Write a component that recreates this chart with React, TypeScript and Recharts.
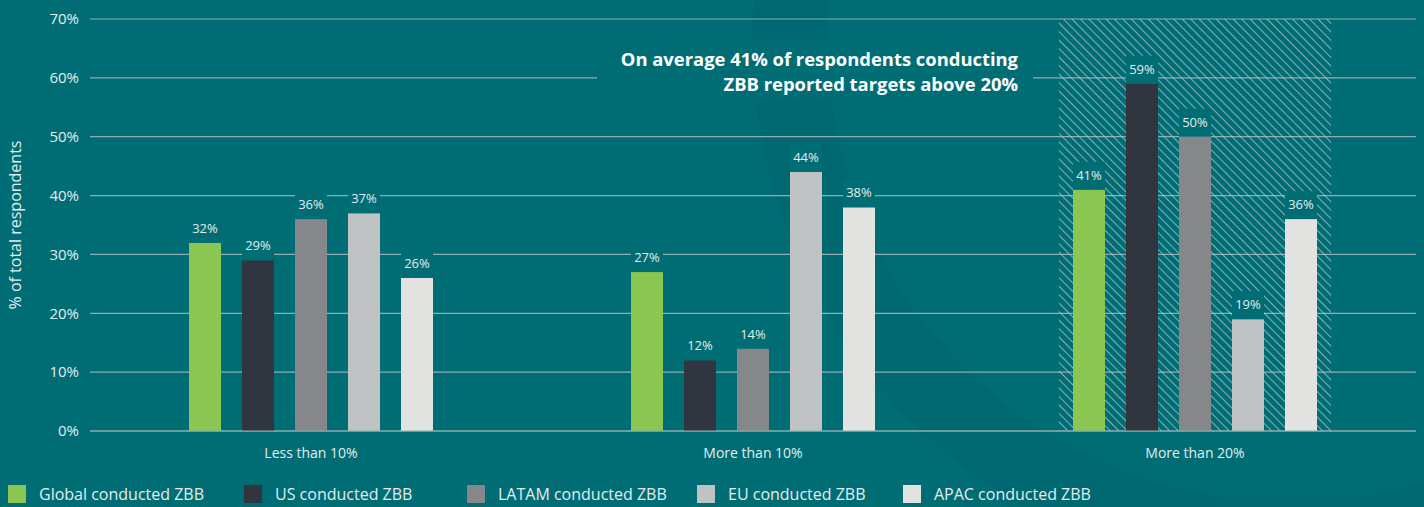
import { BarChart, Bar, XAxis, YAxis, CartesianGrid, LabelList, ReferenceArea } from "recharts";

const categories = ["Less than 10%", "More than 10%", "More than 20%"];
const globalValues = [32, 27, 41];
const usValues = [29, 12, 59];
const latamValues = [36, 14, 50];
const euValues = [37, 44, 19];
const apacValues = [26, 38, 36];
const yTicks = [0, 10, 20, 30, 40, 50, 60, 70];
const highlightCategory = "More than 20%";

const BG = "#006d75";
const GRID = "#8eaeb0";
const TEXT = "#e3ecec";
const FONT = "'Open Sans', sans-serif";

const series = [
  { key: "global", name: "Global conducted ZBB", color: "#8bc653", values: globalValues },
  { key: "us", name: "US conducted ZBB", color: "#31353f", values: usValues },
  { key: "latam", name: "LATAM conducted ZBB", color: "#85878b", values: latamValues },
  { key: "eu", name: "EU conducted ZBB", color: "#c0c3c4", values: euValues },
  { key: "apac", name: "APAC conducted ZBB", color: "#e2e3e1", values: apacValues },
];

// legend columns in the original are not evenly spaced
const legendLeft = [8, 244, 467, 697, 903];

const data = categories.map((category, i) => {
  const row: Record<string, string | number> = { category };
  series.forEach((s) => {
    row[s.key] = s.values[i];
  });
  return row;
});

// value label sits in a small box of the background colour, so grid and hatch stop behind it
function ValueLabel(props: any) {
  const { x, y, width, value } = props;
  return (
    <g>
      <rect x={x} y={y - 28} width={width} height={28} fill={BG} />
      <text
        x={x + width / 2}
        y={y - 15}
        textAnchor="middle"
        dominantBaseline="central"
        fontSize={13}
        fill={TEXT}
        fontFamily={FONT}
      >
        {value}%
      </text>
    </g>
  );
}

function HatchArea(props: any) {
  const { x, y, width, height } = props;
  const inset = width * 0.192;
  return <rect x={x + inset} y={y} width={width - inset * 2} height={height} fill="url(#zbbHatch)" />;
}

function YLabel(props: any) {
  const vb = props.viewBox || {};
  const cy = vb.y + vb.height / 2;
  return (
    <text
      x={15}
      y={cy}
      transform={`rotate(-90, 15, ${cy})`}
      textAnchor="middle"
      dominantBaseline="central"
      fontSize={16}
      fill={TEXT}
      fontFamily={FONT}
    >
      % of total respondents
    </text>
  );
}

export default function App() {
  return (
    <div
      style={{
        position: "absolute",
        left: 0,
        top: 0,
        width: 1424,
        height: 507,
        overflow: "hidden",
        background: BG,
        fontFamily: FONT,
      }}
    >
      <svg width={1424} height={507} style={{ position: "absolute", left: 0, top: 0 }}>
        <circle cx={1290} cy={40} r={500} fill="none" stroke="rgba(0,40,50,0.07)" strokeWidth={75} />
      </svg>

      <div style={{ position: "absolute", left: 0, top: 0 }}>
        <BarChart
          width={1424}
          height={507}
          data={data}
          margin={{ top: 19, right: 8, left: 30, bottom: 46 }}
          barSize={32}
          barGap={21}
        >
          <defs>
            <pattern
              id="zbbHatch"
              width={6}
              height={6}
              patternUnits="userSpaceOnUse"
              patternTransform="rotate(-45)"
            >
              <line x1={0} y1={0} x2={0} y2={6} stroke="#b3c7c8" strokeWidth={1.5} />
            </pattern>
          </defs>
          <CartesianGrid vertical={false} stroke={GRID} strokeWidth={1.2} />
          <ReferenceArea
            x1={highlightCategory}
            x2={highlightCategory}
            y1={0}
            y2={70}
            shape={HatchArea}
          />
          <XAxis
            dataKey="category"
            axisLine={{ stroke: GRID, strokeWidth: 1.2 }}
            tickLine={false}
            tickMargin={11}
            tick={{ fill: TEXT, fontSize: 14, fontFamily: FONT }}
          />
          <YAxis
            width={60}
            domain={[0, 70]}
            ticks={yTicks}
            axisLine={false}
            tickLine={false}
            tickMargin={5}
            tickFormatter={(v) => `${v}%`}
            tick={{ fill: TEXT, fontSize: 15, fontFamily: FONT }}
            label={<YLabel />}
          />
          {series.map((s) => (
            <Bar key={s.key} dataKey={s.key} name={s.name} fill={s.color} isAnimationActive={false}>
              <LabelList dataKey={s.key} content={ValueLabel} />
            </Bar>
          ))}
        </BarChart>
      </div>

      <div
        style={{
          position: "absolute",
          left: 597,
          top: 40,
          width: 436,
          paddingRight: 15,
          height: 62,
          background: BG,
          color: "#ffffff",
          fontWeight: 700,
          fontSize: 18.4,
          lineHeight: "25px",
          textAlign: "right",
          paddingTop: 6,
          boxSizing: "border-box",
          whiteSpace: "nowrap",
        }}
      >
        On average 41% of respondents conducting
        <br />
        ZBB reported targets above 20%
      </div>

      {series.map((s, i) => (
        <div
          key={s.key}
          style={{
            position: "absolute",
            left: legendLeft[i],
            top: 485,
            height: 18,
            display: "flex",
            alignItems: "center",
            fontSize: 16,
            color: TEXT,
            whiteSpace: "nowrap",
          }}
        >
          <span style={{ width: 18, height: 18, background: s.color, marginRight: 13, display: "inline-block" }} />
          <span>{s.name}</span>
        </div>
      ))}
    </div>
  );
}
